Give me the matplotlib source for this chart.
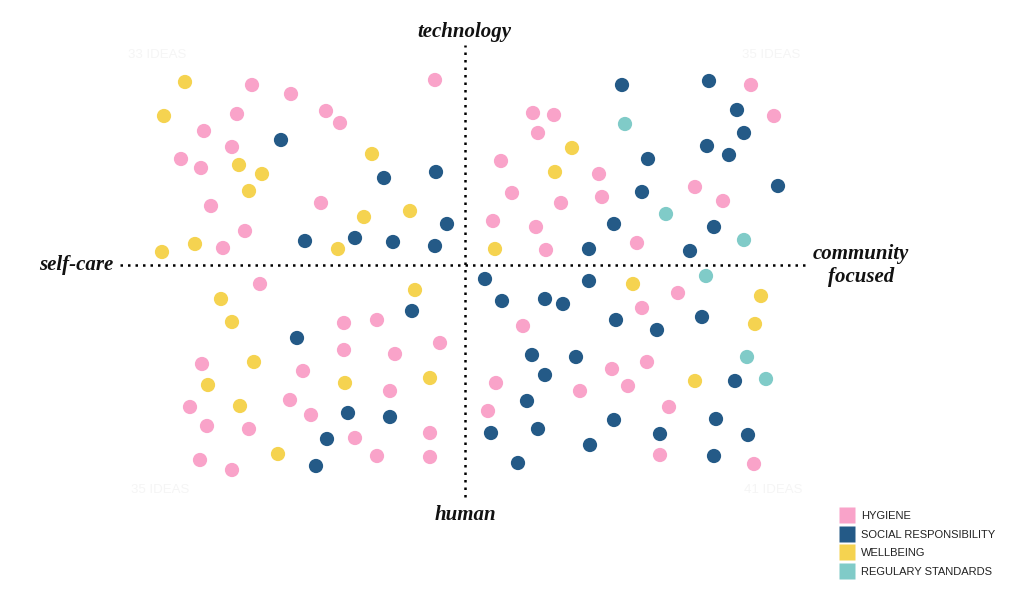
import numpy as np
import matplotlib
matplotlib.use("Agg")
import matplotlib.pyplot as plt
from matplotlib.lines import Line2D

# idea positions, x = self-care (-) .. community focused (+), y = human (-) .. technology (+)
hygiene_x = [-213, -174, -30, -228, -139, -125, -261, -233, -284, -264, -254, -144, -220, -242,
             286, 309, 68, 89, 73, 36, 134, 47, 96, 137, 230, 258, 28, 71, 172, 81,
             -205, -121, -88, -121, -70, -25, -263, -162, -175, -75, -275, -154, -258, -216, -110, -35, -265, -233, -88, -35,
             213, 177, 58, 147, 182, 31, 115, 163, 23, 204, 195, 289]
hygiene_y = [180, 171, 185, 151, 154, 142, 134, 118, 106, 97, 59, 62, 34, 17,
             180, 149, 152, 150, 132, 104, 91, 72, 62, 68, 78, 64, 44, 38, 22, 15,
             -19, -58, -55, -85, -89, -78, -99, -106, -135, -126, -142, -150, -161, -164, -173, -168, -195, -205, -191, -192,
             -28, -43, -61, -104, -97, -118, -126, -121, -146, -142, -190, -199]

social_x = [-184, -81, -29, -18, -160, -110, -72, -30,
            157, 244, 272, 279, 242, 264, 183, 177, 313, 149, 249, 124, 225,
            -53, -168, -117, -75, -138, -149,
            20, 37, 80, 98, 124, 151, 192, 237, 67, 111, 80, 62, 270, 149, 251, 26, 73, 125, 195, 283, 53, 249]
social_y = [125, 87, 93, 41, 24, 27, 23, 19,
            180, 184, 155, 132, 119, 110, 106, 73, 79, 41, 38, 16, 14,
            -46, -73, -148, -152, -174, -201,
            -14, -36, -34, -39, -16, -55, -65, -52, -90, -92, -110, -136, -116, -155, -154, -168, -164, -180, -169, -170, -198, -191]

wellbeing_x = [-280, -301, -93, -226, -203, -216, -101, -55, -270, -303, -127,
               107, 90, 30,
               -50, -244, -233, -211, -257, -120, -35, -225, -187,
               168, 296, 290, 230]
wellbeing_y = [183, 149, 111, 100, 91, 74, 48, 54, 21, 13, 16,
               117, 93, 16,
               -25, -34, -57, -97, -120, -118, -113, -141, -189,
               -19, -31, -59, -116]

regulary_x = [160, 201, 279, 241, 282, 301]
regulary_y = [141, 51, 25, -11, -92, -114]

series = [
    ("HYGIENE", hygiene_x, hygiene_y, "#f9a3c9"),
    ("SOCIAL RESPONSIBILITY", social_x, social_y, "#245a87"),
    ("WELLBEING", wellbeing_x, wellbeing_y, "#f5d350"),
    ("REGULARY STANDARDS", regulary_x, regulary_y, "#80cbc8"),
]

fig = plt.figure(figsize=(10.24, 6.01), dpi=100)
ax = fig.add_axes([0, 0, 1, 1])
ax.set_xlim(-465, 559)
ax.set_ylim(-336, 265)
ax.axis("off")

# quadrant axes
ax.plot([-345, 340], [0, 0], color="black", linestyle=(0, (1, 2)), linewidth=1.8, zorder=1)
ax.plot([0, 0], [-232, 220], color="black", linestyle=(0, (1, 2)), linewidth=1.8, zorder=1)

for name, xs, ys, col in series:
    ax.scatter(xs, ys, s=105, color=col, edgecolors="none", zorder=3)

lab = dict(family="Liberation Serif", fontstyle="italic", fontweight="bold",
           fontsize=15, color="#111111")
ax.text(-1, 233, "technology", ha="center", va="center", **lab)
ax.text(0, -250, "human", ha="center", va="center", **lab)
ax.text(-389, 0, "self-care", ha="center", va="center", **lab)
ax.text(396, -1, "community\nfocused", ha="center", va="center", linespacing=1.2, **lab)

# faint quadrant counts
faint = dict(family="Liberation Sans", fontsize=9.5, color="#f5f5f5", ha="center", va="center")
ax.text(-308, 210, "33 IDEAS", **faint)
ax.text(306, 210, "35 IDEAS", **faint)
ax.text(-305, -225, "35 IDEAS", **faint)
ax.text(308, -225, "41 IDEAS", **faint)

handles = [Line2D([], [], marker="s", linestyle="none", markersize=12,
                  markerfacecolor=c, markeredgecolor="none", label=n)
           for n, _, _, c in series]
leg = fig.legend(handles=handles, loc="upper left", bbox_to_anchor=(0.822, 0.150),
                 frameon=False, prop={"family": "Liberation Sans", "size": 8},
                 handlelength=1.0, handletextpad=0.75, labelspacing=0.78,
                 borderaxespad=0, borderpad=0)
for t in leg.get_texts():
    t.set_color("#222222")

fig.savefig("out.png", dpi=100)
